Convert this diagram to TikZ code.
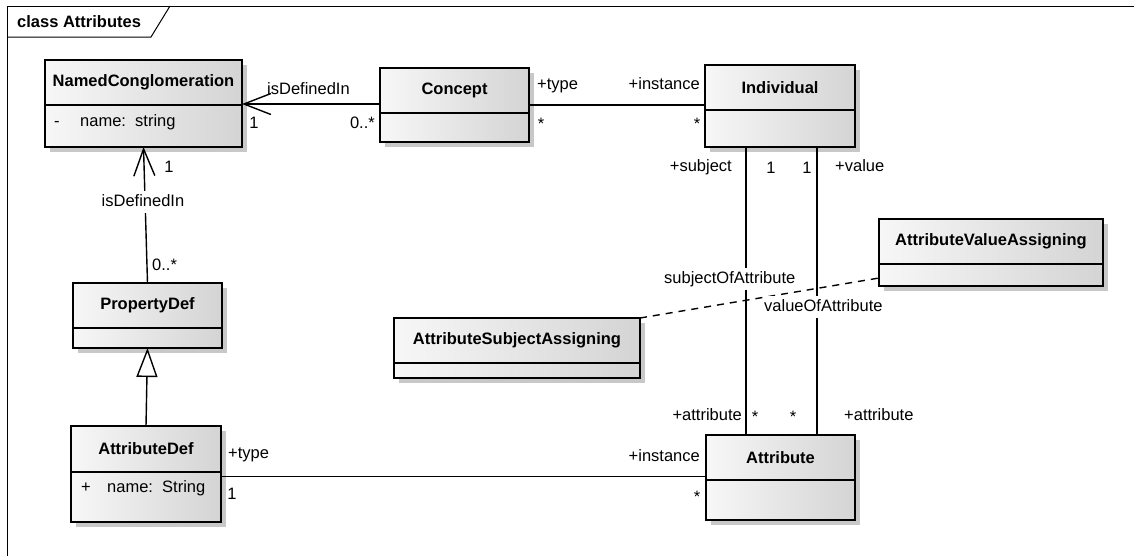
\documentclass[tikz,border=0pt]{standalone}
\usepackage{fontspec}
\setmainfont{Liberation Sans}
\usetikzlibrary{arrows.meta,shadows,calc}
\definecolor{boxleft}{RGB}{247,247,247}
\definecolor{boxright}{RGB}{212,212,212}
\definecolor{shadowgray}{RGB}{200,200,200}
\newcommand\umlclass[7]{% name, x1, y1, x2, y2, ydiv, title
  \node[umlbox, minimum width={(#4-#2)*1pt}, minimum height={(#5-#3)*1pt}]
    (#1) at ({(#2+#4)/2},{(#3+#5)/2}) {};
  \draw[boxline] (#1.west |- 0,#6) -- (#1.east |- 0,#6);
  \node[clsname] (#1-t) at ({(#2+#4)/2},{(#3+#6)/2}) {#7};
}
\begin{document}
\begin{tikzpicture}[x=1pt,y=-1pt,
  every node/.style={font=\fontsize{16.5}{19}\selectfont},
  umlbox/.style={rectangle, draw=black, line width=1.8pt, inner sep=0, outer sep=0,
    left color=boxleft, right color=boxright,
    drop shadow={shadow xshift=5pt, shadow yshift=-5pt, fill=shadowgray, opacity=1}},
  boxline/.style={line width=1.8pt},
  clsname/.style={inner sep=0, font=\fontsize{16.5}{19}\selectfont\bfseries},
  lbl/.style={inner sep=0, text height=12pt, text depth=3.5pt},
  wlbl/.style={lbl, fill=white, inner xsep=1pt, inner ysep=3pt},
  assoc/.style={line width=1.4pt},
  depend/.style={line width=1.4pt, dash pattern=on 7pt off 6pt},
  openarrow/.style={-{Straight Barb[length=27pt,width=21pt]}},
  genarrow/.style={-{Triangle[length=29pt,width=21pt,fill=white]}},
  framelne/.style={line width=1pt}
]
\useasboundingbox (0,0) rectangle (1134,555);

% frame
\draw[framelne] (7,556) -- (7,6) -- (1135,6);
\draw[framelne] (7,37) -- (151,37) -- (170,6);
\node[clsname, anchor=west] (frametitle) at (17,22) {class Attributes};

% classes
\umlclass{nc}{45}{60}{242}{147}{105}{NamedConglomeration}
\umlclass{concept}{380}{68}{529}{142}{113}{Concept}
\umlclass{ind}{705}{65}{855}{147}{110}{Individual}
\umlclass{pd}{73}{283}{222}{348}{328}{PropertyDef}
\umlclass{ad}{71}{426}{221}{522}{472}{AttributeDef}
\umlclass{attr}{706}{435}{855}{520}{480}{Attribute}
\umlclass{ava}{879}{219}{1103}{286}{264}{AttributeValueAssigning}
\umlclass{asa}{394}{318}{640}{378}{363}{AttributeSubjectAssigning}

% attributes
\node[lbl, anchor=west] (nc-vis) at (54,122) {-};
\node[lbl, anchor=west] (nc-a1) at (80,122) {name:\ \ string};
\node[lbl, anchor=west] (ad-vis) at (81,488) {+};
\node[lbl, anchor=west] (ad-a1) at (107,488) {name:\ \ String};

% connectors
\draw[assoc, openarrow] (concept.west |- 0,104) -- (nc.east |- 0,104);
\draw[assoc, openarrow] (pd.north) -- (nc.south);
\draw[assoc, genarrow] (ad.north) -- (pd.south);
\draw[assoc] (concept.east |- 0,105) -- (ind.west |- 0,105);
\draw[assoc] (ad.east |- 0,476.5) -- (attr.west |- 0,476.5);
\draw[assoc] (ind.south -| 746,0) -- (attr.north -| 746,0);
\draw[assoc] (ind.south -| 817,0) -- (attr.north -| 817,0);
\draw[depend] (asa.north east) -- (ava.west |- 0,278);

% connector labels
\node[lbl, anchor=west] (l-def1) at (267,90) {isDefinedIn};
\node[lbl] (l-def1a) at (254,124) {1};
\node[lbl, anchor=east] (l-def1b) at (375,124) {0..*};
\node[lbl] (l-def2a) at (169,168) {1};
\node[wlbl] (l-def2) at (143,202) {isDefinedIn};
\node[lbl, anchor=west] (l-def2b) at (152,266) {0..*};

\node[lbl, anchor=west] (l-ct) at (537,85) {+type};
\node[lbl] (l-cts) at (541,125) {*};
\node[lbl, anchor=east] (l-ci) at (700,85) {+instance};
\node[lbl] (l-cis) at (697,125) {*};

\node[lbl, anchor=east] (l-subj) at (732,167) {+subject};
\node[lbl] (l-subj1) at (771,169) {1};
\node[lbl] (l-val1) at (807,169) {1};
\node[lbl, anchor=west] (l-val) at (835,167) {+value};
\node[wlbl, anchor=west] (l-soa) at (663,279) {subjectOfAttribute};
\node[wlbl, anchor=west] (l-voa) at (763,307) {valueOfAttribute};
\node[lbl, anchor=east] (l-att1) at (742,416) {+attribute};
\node[lbl] (l-att1s) at (755,418) {*};
\node[lbl] (l-att2s) at (793,418) {*};
\node[lbl, anchor=west] (l-att2) at (844,416) {+attribute};

\node[lbl, anchor=west] (l-at) at (228,454) {+type};
\node[lbl] (l-at1) at (232,495) {1};
\node[lbl, anchor=east] (l-ai) at (700,457) {+instance};
\node[lbl] (l-ais) at (697,498) {*};
\end{tikzpicture}
\end{document}
